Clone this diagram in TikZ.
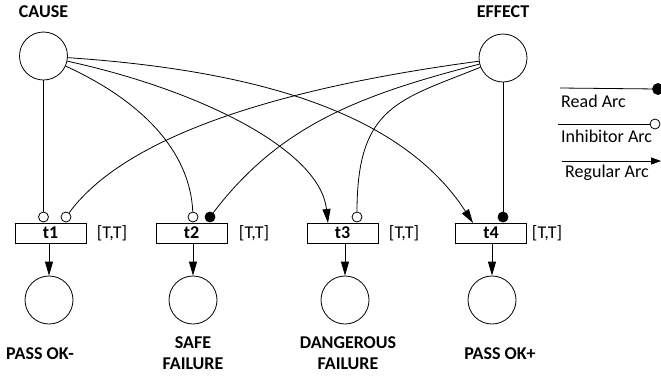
\documentclass[tikz,border=0pt]{standalone}
\usepackage{fontspec}
\setmainfont{Carlito}
\usetikzlibrary{arrows.meta}
\begin{document}
\begin{tikzpicture}[x=1pt,y=-1pt,
  every node/.style={font=\fontsize{18}{21}\selectfont},
  lbl/.style={font=\fontsize{18}{21}\selectfont\bfseries,align=center},
  place/.style={circle,draw,line width=0.8pt,minimum size=48pt,inner sep=0pt},
  trans/.style={draw,line width=0.8pt,minimum width=71pt,minimum height=20pt,inner sep=0pt,
    font=\fontsize{18}{21}\selectfont\bfseries},
  inhib/.style={circle,draw,line width=0.8pt,fill=white,minimum size=10pt,inner sep=0pt},
  readn/.style={circle,draw,line width=0.8pt,fill=black,minimum size=10pt,inner sep=0pt},
  arc/.style={line width=0.8pt},
  regarc/.style={line width=0.8pt,-{Triangle[length=14pt,width=8pt]}},
]
\useasboundingbox (0,0) rectangle (661,376);

% input places
\node[place] (cause) at (43.5,56) {};
\node[place] (effect) at (503,58) {};
\node[lbl] (causel) at (43.5,12) {CAUSE};
\node[lbl] (effectl) at (503,12) {EFFECT};

% transitions with their firing intervals
\node[trans] (t1) at (50.5,233) {t1};
\node[trans] (t2) at (191.5,233) {t2};
\node[trans] (t3) at (342.5,233) {t3};
\node[trans] (t4) at (491,233) {t4};
\node (i1) at (112,233) {[T,T]};
\node (i2) at (254,233) {[T,T]};
\node (i3) at (404,233) {[T,T]};
\node (i4) at (547,233) {[T,T]};

% output places
\node[place] (p1) at (49,300) {};
\node[place] (p2) at (193,300) {};
\node[place] (p3) at (345,300) {};
\node[place] (p4) at (492,300) {};
\node[lbl] (p1l) at (40,354) {PASS OK-};
\node[lbl] (p2l) at (193,353.5) {SAFE\\FAILURE};
\node[lbl] (p3l) at (348,353.5) {DANGEROUS\\FAILURE};
\node[lbl] (p4l) at (500,354) {PASS OK+};

% arc ends on the transitions
\node[inhib] (h1a) at (43.5,217) {};
\node[inhib] (h1b) at (66,217) {};
\node[inhib] (h2a) at (193,217) {};
\node[readn] (r2) at (210,217) {};
\node[inhib] (h3) at (357,217) {};
\node[readn] (r4) at (503,217) {};
\coordinate (in3) at (328,223);
\coordinate (in4) at (473,223);

% arcs from CAUSE
\draw[arc] (cause) -- (h1a);
\draw[arc] (cause) .. controls (140,100) and (190,150) .. (h2a);
\draw[regarc] (cause) .. controls (200,90) and (320,150) .. (in3);
\draw[regarc] (cause) .. controls (250,70) and (400,110) .. (in4);

% arcs from EFFECT
\draw[arc] (effect) .. controls (300,85) and (130,130) .. (h1b);
\draw[arc] (effect) .. controls (360,95) and (280,125) .. (r2);
\draw[arc] (effect) .. controls (400,100) and (357,105) .. (h3);
\draw[arc] (effect) -- (r4);

% output arcs
\draw[regarc] (t1.south -| p1) -- (p1);
\draw[regarc] (t2.south -| p2) -- (p2);
\draw[regarc] (t3.south -| p3) -- (p3);
\draw[regarc] (t4.south -| p4) -- (p4);

% legend
\coordinate (ra) at (560,88);
\node[readn,minimum size=11pt] (rb) at (658,89) {};
\draw[arc] (ra) -- (rb);
\node[anchor=base west,inner sep=0pt] (rl) at (561,107) {Read Arc};

\coordinate (ia) at (558,124);
\node[inhib] (ib) at (655,124) {};
\draw[arc] (ia) -- (ib);
\node[anchor=base west,inner sep=0pt] (il) at (561,142) {Inhibitor Arc};

\coordinate (ga) at (562,161);
\coordinate (gb) at (661,161);
\draw[arc,-{Triangle[length=10pt,width=7pt]}] (ga) -- (gb);
\node[anchor=base west,inner sep=0pt] (gl) at (565,177) {Regular Arc};
\end{tikzpicture}
\end{document}
